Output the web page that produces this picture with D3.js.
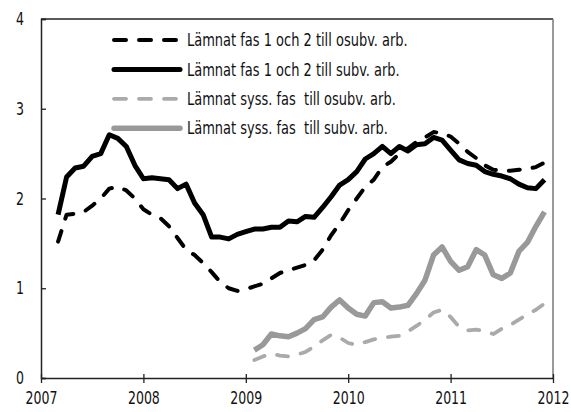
<!DOCTYPE html>
<html>
<head>
<meta charset="utf-8">
<script src="https://cdn.jsdelivr.net/npm/d3@7"></script>
<style>
  body { margin: 0; background: #fff; }
  svg text { font-family: "DejaVu Sans Condensed", "Liberation Sans Narrow", sans-serif; fill: #111; }
</style>
</head>
<body>
<svg id="chart" width="571" height="412"></svg>
<script>
// months counted from Jan 2007 (0) ; each series starts at a given month
const year_labels = ["2007", "2008", "2009", "2010", "2011", "2012"];
const y_ticks = [0, 1, 2, 3, 4];

const legend_names = [
  "Lämnat fas 1 och 2 till osubv. arb.",
  "Lämnat fas 1 och 2 till subv. arb.",
  "Lämnat syss. fas  till osubv. arb.",
  "Lämnat syss. fas  till subv. arb."
];

// Lämnat fas 1 och 2 till osubv. arb. (from Mar 2007)
const fas_osubv_start = 2;
const fas_osubv = [1.52, 1.82, 1.83, 1.85, 1.92, 2.00, 2.11, 2.13, 2.09, 2.00,
  1.88, 1.82, 1.78, 1.69, 1.56, 1.43, 1.37, 1.28, 1.18, 1.07,
  1.00, 0.97, 0.99, 1.02, 1.05, 1.11, 1.17, 1.20, 1.23, 1.26,
  1.31, 1.43, 1.59, 1.72, 1.87, 2.00, 2.13, 2.21, 2.35, 2.41,
  2.50, 2.56, 2.63, 2.68, 2.74, 2.73, 2.69, 2.61, 2.52, 2.45,
  2.37, 2.32, 2.31, 2.31, 2.32, 2.33, 2.35, 2.40];

// Lämnat fas 1 och 2 till subv. arb. (from Mar 2007)
const fas_subv_start = 2;
const fas_subv = [1.82, 2.24, 2.34, 2.36, 2.47, 2.50, 2.71, 2.67, 2.58, 2.37,
  2.22, 2.23, 2.22, 2.21, 2.11, 2.16, 1.95, 1.82, 1.57, 1.57,
  1.55, 1.60, 1.63, 1.66, 1.66, 1.68, 1.68, 1.75, 1.74, 1.80,
  1.79, 1.90, 2.02, 2.15, 2.21, 2.30, 2.44, 2.50, 2.58, 2.50,
  2.58, 2.53, 2.60, 2.61, 2.68, 2.65, 2.54, 2.43, 2.39, 2.37,
  2.30, 2.27, 2.25, 2.22, 2.16, 2.12, 2.11, 2.21];

// Lämnat syss. fas till osubv. arb. (from Feb 2009)
const syss_osubv_start = 25;
const syss_osubv = [0.20, 0.24, 0.27, 0.25, 0.24, 0.26, 0.29, 0.35, 0.42, 0.48,
  0.45, 0.39, 0.37, 0.40, 0.43, 0.45, 0.46, 0.47, 0.52, 0.58,
  0.65, 0.73, 0.76, 0.68, 0.57, 0.53, 0.54, 0.52, 0.49, 0.55,
  0.59, 0.65, 0.71, 0.76, 0.83];

// Lämnat syss. fas till subv. arb. (from Feb 2009)
const syss_subv_start = 25;
const syss_subv = [0.31, 0.37, 0.49, 0.47, 0.46, 0.50, 0.55, 0.65, 0.68, 0.79,
  0.87, 0.78, 0.71, 0.69, 0.84, 0.85, 0.78, 0.79, 0.81, 0.94,
  1.09, 1.37, 1.46, 1.30, 1.20, 1.24, 1.43, 1.37, 1.15, 1.11,
  1.17, 1.41, 1.51, 1.69, 1.85];

const series = [
  {name: legend_names[0], start: fas_osubv_start, values: fas_osubv, color: "#000", width: 4, dash: "11,13"},
  {name: legend_names[1], start: fas_subv_start, values: fas_subv, color: "#000", width: 5, dash: null},
  {name: legend_names[2], start: syss_osubv_start, values: syss_osubv, color: "#aaa", width: 3.8, dash: "11,13"},
  {name: legend_names[3], start: syss_subv_start, values: syss_subv, color: "#999", width: 5.5, dash: null}
];

const margin = {left: 41, right: 18, top: 19, bottom: 34};
const width = 571, height = 412;
const svg = d3.select("#chart");

const x = d3.scaleLinear().domain([0, 60]).range([margin.left, width - margin.right]);
const y = d3.scaleLinear().domain([0, 4]).range([height - margin.bottom, margin.top]);

// narrow-ish look like the original condensed font
const squeeze = 0.82;

// frame: top black, right grey
svg.append("line")
  .attr("x1", x(0)).attr("x2", x(60)).attr("y1", y(4)).attr("y2", y(4))
  .style("stroke", "#222").style("stroke-width", 1.3);
svg.append("line")
  .attr("x1", x(60)).attr("x2", x(60)).attr("y1", y(4)).attr("y2", y(0))
  .style("stroke", "#777").style("stroke-width", 1.5);

// y axis
let y_axis = svg.append("g")
  .attr("transform", `translate(${x(0)},0)`)
  .call(d3.axisRight(y).tickValues(y_ticks).tickSize(5).tickFormat(""));
y_axis.select(".domain").style("stroke", "#222").style("stroke-width", 1.5);
y_axis.selectAll(".tick line").style("stroke", "#222").style("stroke-width", 1.3);

svg.selectAll(".y-label")
  .data(y_ticks)
  .enter().append("text")
  .attr("class", "y-label")
  .attr("transform", (d) => `translate(24,${y(d)}) scale(${squeeze},1)`)
  .attr("dy", "0.36em")
  .attr("text-anchor", "end")
  .style("font-size", "17px")
  .text((d) => d);

// x axis
let x_axis = svg.append("g")
  .attr("transform", `translate(0,${y(0)})`)
  .call(d3.axisBottom(x).tickValues(d3.range(0, 61, 12)).tickSize(5).tickSizeOuter(0)
    .tickFormat((d, i) => year_labels[i]));
x_axis.select(".domain").style("stroke", "#222").style("stroke-width", 1.5);
x_axis.selectAll(".tick line").attr("y1", -4).style("stroke", "#222").style("stroke-width", 1.3);
x_axis.selectAll(".tick text")
  .attr("y", 14)
  .attr("transform", `scale(${squeeze},1)`)
  .style("font-size", "17px")
  .style("font-family", "'DejaVu Sans Condensed', 'Liberation Sans Narrow', sans-serif")
  .style("fill", "#111");

// series lines
let line = d3.line()
  .x((d) => x(d.m))
  .y((d) => y(d.v));

series.forEach((s) => {
  let pts = s.values.map((v, i) => ({m: s.start + i, v: v}));
  svg.append("path")
    .datum(pts)
    .attr("d", line)
    .style("fill", "none")
    .style("stroke", s.color)
    .style("stroke-width", s.width)
    .style("stroke-linejoin", "round")
    .style("stroke-linecap", s.dash ? "round" : "butt")
    .style("stroke-dasharray", s.dash);
});

// legend
let legend = svg.append("g").attr("transform", "translate(112,40)");
series.forEach((s, i) => {
  let row = legend.append("g").attr("transform", `translate(0,${i * 29.4})`);
  row.append("line")
    .attr("x1", 2).attr("x2", 68)
    .style("stroke", s.color)
    .style("stroke-width", s.width)
    .style("stroke-linecap", "round")
    .style("stroke-dasharray", s.dash ? "12,13" : null);
  row.append("text")
    .attr("transform", `translate(75,0) scale(0.85,1)`)
    .attr("dy", "0.36em")
    .style("font-size", "17px")
    .style("white-space", "pre")
    .text(s.name);
});
</script>
</body>
</html>
